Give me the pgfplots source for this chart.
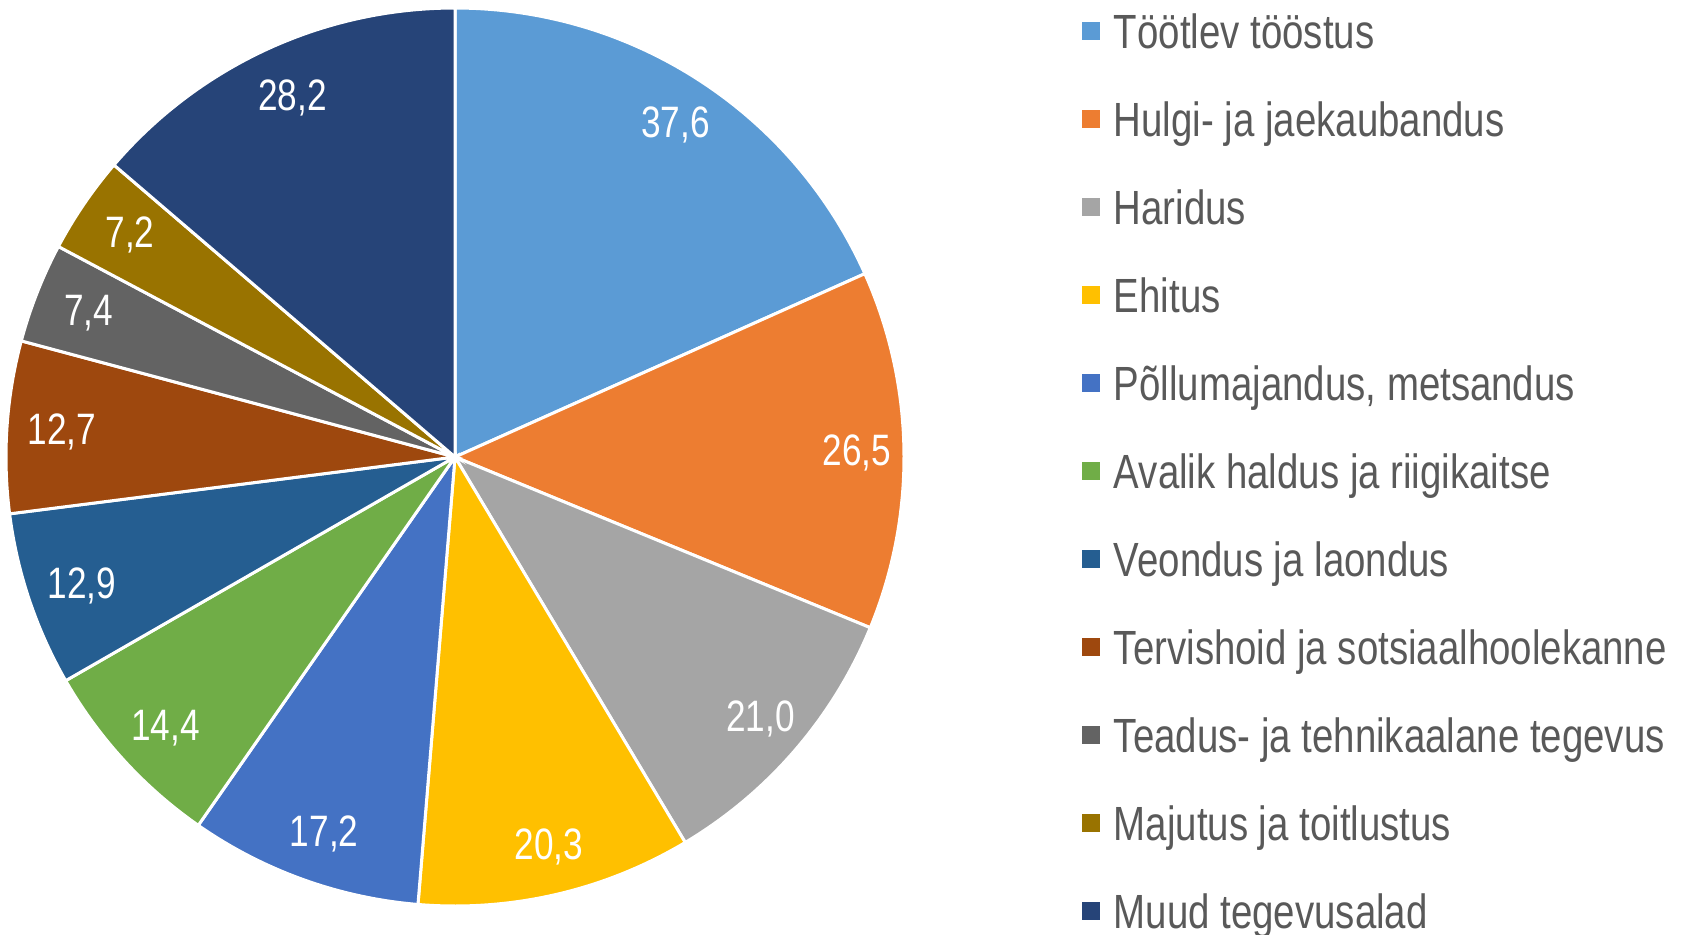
\documentclass[border=0pt]{standalone}
\usepackage{fontspec}
\setmainfont[FakeStretch=0.8]{Liberation Sans}
\usepackage{pgfplots}
\usepackage{pgfplotstable}
\pgfplotsset{compat=1.18}
\definecolor{c1}{HTML}{5B9BD5}
\definecolor{c2}{HTML}{ED7D31}
\definecolor{c3}{HTML}{A5A5A5}
\definecolor{c4}{HTML}{FFC000}
\definecolor{c5}{HTML}{4472C4}
\definecolor{c6}{HTML}{70AD47}
\definecolor{c7}{HTML}{255E91}
\definecolor{c8}{HTML}{9E480E}
\definecolor{c9}{HTML}{636363}
\definecolor{c10}{HTML}{997300}
\definecolor{c11}{HTML}{264478}
\definecolor{legtext}{HTML}{595959}
\newcommand\legfont{\fontsize{24bp}{28bp}\selectfont}
\newcommand\labfont{\fontsize{22bp}{26bp}\selectfont}
\newcommand\legstrut{\rule[-4bp]{0pt}{23bp}}

\pgfplotstableread[col sep=semicolon]{
name;value;col
Töötlev tööstus;37.6;c1
Hulgi- ja jaekaubandus;26.5;c2
Haridus;21.0;c3
Ehitus;20.3;c4
Põllumajandus, metsandus;17.2;c5
Avalik haldus ja riigikaitse;14.4;c6
Veondus ja laondus;12.9;c7
Tervishoid ja sotsiaalhoolekanne;12.7;c8
Teadus- ja tehnikaalane tegevus;7.4;c9
Majutus ja toitlustus;7.2;c10
Muud tegevusalad;28.2;c11
}\piedata

\begin{document}
\begin{tikzpicture}
\def\total{0}
\pgfplotsforeachungrouped \i in {0,...,10}{%
  \pgfplotstablegetelem{\i}{value}\of\piedata
  \pgfmathsetmacro\total{\total+\pgfplotsretval}%
}
\def\cum{0}
\begin{axis}[
  x=0.5bp, y=0.5bp,
  xmin=0, xmax=1682, ymin=0, ymax=934,
  hide axis, clip=false, scale only axis,
  legend style={at={(axis cs:1082,928)}, anchor=north west, draw=none, fill=none,
    font=\legfont, text=legtext, row sep=19.5bp, inner sep=0pt},
  legend cell align=left,
  legend image code/.code={\fill[#1,draw=none] (0bp,-4.5bp) rectangle (9bp,4.5bp); \path (13bp,0bp);},
  /pgf/number format/.cd, fixed, fixed zerofill, precision=1, use comma, assume math mode=true,
]
\pgfplotsforeachungrouped \i in {0,...,10}{%
  \pgfplotstablegetelem{\i}{value}\of\piedata \let\v\pgfplotsretval
  \pgfplotstablegetelem{\i}{name}\of\piedata \let\nm\pgfplotsretval
  \pgfplotstablegetelem{\i}{col}\of\piedata \let\cl\pgfplotsretval
  \pgfmathsetmacro\aS{90-\cum/\total*360}%
  \pgfmathsetmacro\cum{\cum+\v}%
  \pgfmathsetmacro\aE{90-\cum/\total*360}%
  \pgfmathsetmacro\aM{(\aS+\aE)/2}%
  \pgfmathsetmacro\lx{459+398*cos(\aM)}%
  \pgfmathsetmacro\ly{475+398*sin(\aM)}%
  \edef\cmd{%
    \noexpand\addplot[fill=\cl, draw=white, line width=1.5bp, domain=\aE:\aS, samples=90, variable=\noexpand\t]
      ({455+449*cos(\noexpand\t)},{477+449*sin(\noexpand\t)}) -- (axis cs:455,477) -- cycle;
    \noexpand\addlegendentry{\noexpand\legstrut\nm}
    \noexpand\addplot[only marks, mark=none, forget plot, point meta=explicit,
      nodes near coords, nodes near coords align=center,
      every node near coord/.style={text=white, font=\noexpand\labfont, anchor=center, inner sep=0pt}]
      coordinates {(\lx,\ly) [\v]};
  }%
  \cmd
}
\end{axis}
\pgfresetboundingbox
\useasboundingbox (current axis.south west) rectangle (current axis.north east);
\end{tikzpicture}
\end{document}
